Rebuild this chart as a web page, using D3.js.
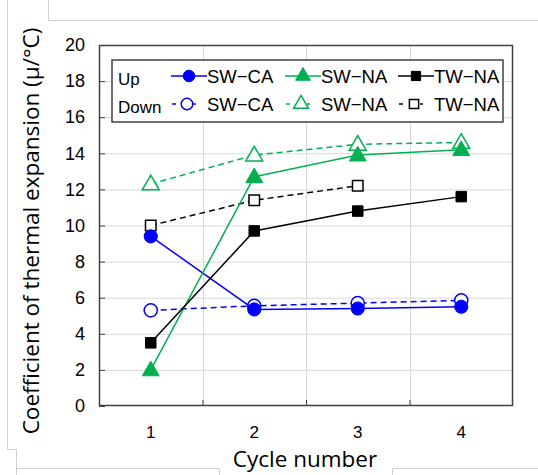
<!DOCTYPE html>
<html>
<head>
<meta charset="utf-8">
<script src="https://cdn.jsdelivr.net/npm/d3@7"></script>
<style>
  body { margin: 0; background: #fff; }
  svg { display: block; }
</style>
</head>
<body>
<svg id="chart" width="538" height="475"></svg>
<script>
// DATA
const cycles = [1, 2, 3, 4];
const yTicks = [0, 2, 4, 6, 8, 10, 12, 14, 16, 18, 20];
const swCaUp = [9.4, 5.35, 5.4, 5.5];
const swNaUp = [2.0, 12.7, 13.9, 14.2];
const twNaUp = [3.5, 9.7, 10.8, 11.6];
const swCaDown = [5.3, 5.55, 5.7, 5.85];
const swNaDown = [12.3, 13.9, 14.5, 14.6];
const twNaDown = [10.0, 11.4, 12.2];

const series = [
  { name: "SW−CA", dir: "Down", values: swCaDown, color: "#0000ff", shape: "circle", filled: false },
  { name: "SW−NA", dir: "Down", values: swNaDown, color: "#00b050", shape: "triangle", filled: false },
  { name: "TW−NA", dir: "Down", values: twNaDown, color: "#000000", shape: "square", filled: false },
  { name: "SW−CA", dir: "Up", values: swCaUp, color: "#0000ff", shape: "circle", filled: true },
  { name: "SW−NA", dir: "Up", values: swNaUp, color: "#00b050", shape: "triangle", filled: true },
  { name: "TW−NA", dir: "Up", values: twNaUp, color: "#000000", shape: "square", filled: true },
];

// CANVAS SETUP
const svg = d3.select("#chart");
const margin = { top: 45, right: 25, bottom: 69, left: 99 },
  width = 538 - margin.left - margin.right,
  height = 475 - margin.top - margin.bottom;

// screenshot frame fragments
const frame = svg.append("g").attr("stroke", "#cfcfcf").attr("fill", "none");
frame.append("path").attr("d", "M48.5,0 V20.5 H538");
frame.append("path").attr("d", "M7.5,0 V449.5 H16.5 V475");
frame.append("path").attr("d", "M16.5,468.5 H219.5 V475");
frame.append("path").attr("d", "M392.5,475 V468.5 H538");

const g = svg.append("g").attr("transform", `translate(${margin.left},${margin.top})`);

const x = d3.scaleLinear().domain([0.5, 4.5]).range([0, width]);
const y = d3.scaleLinear().domain([0, 20]).range([height, 0]);

// grid
g.append("g")
  .selectAll("line")
  .data(yTicks.slice(1, -1))
  .join("line")
  .attr("x1", 0).attr("x2", width)
  .attr("y1", (d) => y(d) + 0.5).attr("y2", (d) => y(d) + 0.5)
  .attr("stroke", "#d9d9d9");
g.append("g")
  .selectAll("line")
  .data([1.5, 2.5, 3.5])
  .join("line")
  .attr("x1", (d) => Math.round(x(d)) + 0.5).attr("x2", (d) => Math.round(x(d)) + 0.5)
  .attr("y1", 0).attr("y2", height)
  .attr("stroke", "#d9d9d9");

// axes
const yAxis = g.append("g")
  .call(d3.axisLeft(y).tickValues(yTicks).tickSizeInner(-6).tickSizeOuter(0).tickPadding(14));
const xAxis = g.append("g")
  .attr("transform", `translate(0,${height})`)
  .call(d3.axisBottom(x).tickValues([1.5, 2.5, 3.5]).tickSizeInner(-6).tickSizeOuter(0).tickFormat(""));
[yAxis, xAxis].forEach((a) => {
  a.select(".domain").remove();
  a.selectAll("line").attr("stroke", "#404040");
});
yAxis.selectAll("text")
  .attr("font-family", "Liberation Sans, Arial, sans-serif")
  .attr("font-size", 18).attr("fill", "#000");

g.append("g")
  .selectAll("text")
  .data(cycles)
  .join("text")
  .attr("x", (d) => x(d))
  .attr("y", height + 32)
  .attr("text-anchor", "middle")
  .attr("font-family", "Liberation Sans, Arial, sans-serif")
  .attr("font-size", 17)
  .text((d) => d);

// frame
g.append("rect")
  .attr("x", 0.5).attr("y", 0.5)
  .attr("width", width - 1).attr("height", height - 1)
  .attr("fill", "none").attr("stroke", "#404040").attr("stroke-width", 1.5);

// titles
svg.append("text")
  .attr("transform", `translate(39,231) rotate(-90)`)
  .attr("text-anchor", "middle")
  .attr("font-family", "Open Sans, Noto Sans, sans-serif")
  .attr("font-size", 22.5)
  .text("Coefficient of thermal expansion (μ/°C)");
svg.append("text")
  .attr("x", 305).attr("y", 467)
  .attr("text-anchor", "middle")
  .attr("font-family", "Open Sans, Noto Sans, sans-serif")
  .attr("font-size", 22.5)
  .text("Cycle number");

// markers
function drawMarker(sel, s, size) {
  const sym = { circle: d3.symbolCircle, triangle: d3.symbolTriangle, square: d3.symbolSquare }[s.shape];
  const area = { circle: size * 1.05, triangle: size * 0.95, square: size * 0.85 }[s.shape];
  sel.append("path")
    .attr("d", d3.symbol(sym, area))
    .attr("fill", s.filled ? s.color : "#fff")
    .attr("stroke", s.color)
    .attr("stroke-width", s.filled ? 1 : 1.5);
}

const line = d3.line()
  .x((d, i) => x(cycles[i]))
  .y((d) => y(d));

series.forEach((s) => {
  const sg = g.append("g");
  sg.append("path")
    .datum(s.values)
    .attr("d", line)
    .attr("fill", "none")
    .attr("stroke", s.color)
    .attr("stroke-width", 1.5)
    .attr("stroke-dasharray", s.filled ? null : "6,4");
  sg.selectAll("g.pt")
    .data(s.values)
    .join("g")
    .attr("class", "pt")
    .attr("transform", (d, i) => `translate(${x(cycles[i])},${y(d) + (s.shape === "triangle" ? 1 : 0)})`)
    .each(function () { drawMarker(d3.select(this), s, 130); });
});

// LEGEND
const lg = g.append("g").attr("transform", "translate(13,15)");
lg.append("rect")
  .attr("width", 391).attr("height", 62)
  .attr("fill", "#fff").attr("stroke", "#404040").attr("stroke-width", 1.5);
const rowY = { Up: 16, Down: 44 };
const legFont = "Liberation Sans, Arial, sans-serif";
lg.selectAll("text.dir")
  .data(["Up", "Down"])
  .join("text")
  .attr("class", "dir")
  .attr("x", 6)
  .attr("y", (d) => rowY[d] + 9)
  .attr("font-family", legFont).attr("font-size", 17)
  .text((d) => d);
const colOf = { "SW−CA": 0, "SW−NA": 1, "TW−NA": 2 };
const legX = [77, 191, 304];
series.forEach((s) => {
  const cx = legX[colOf[s.name]] - (s.filled ? 0 : 2);
  const cy = rowY[s.dir];
  const it = lg.append("g").attr("transform", `translate(${cx},${cy})`);
  if (s.filled) {
    it.append("line").attr("x1", -18).attr("x2", 18).attr("stroke", s.color).attr("stroke-width", 1.5);
  } else {
    it.append("line").attr("x1", -15).attr("x2", -11).attr("stroke", s.color).attr("stroke-width", 1.5);
    it.append("line").attr("x1", 6).attr("x2", 9).attr("stroke", s.color).attr("stroke-width", 1.5);
  }
  drawMarker(it, s, 100);
  it.append("text")
    .attr("x", s.filled ? 18 : 20).attr("y", 7)
    .attr("font-family", legFont).attr("font-size", 18.5)
    .text(s.name);
});
</script>
</body>
</html>
